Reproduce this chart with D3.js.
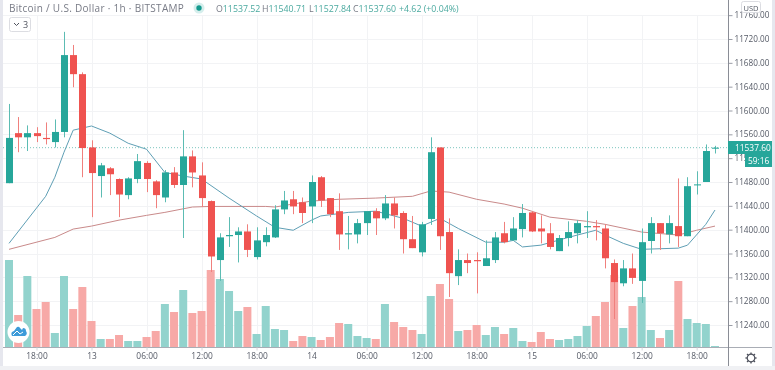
<!DOCTYPE html>
<html><head><meta charset="utf-8">
<script src="https://cdnjs.cloudflare.com/ajax/libs/d3/7.8.5/d3.min.js"></script>
<style>
html,body{margin:0;padding:0;background:#fff;overflow:hidden}
svg{display:block;filter:blur(0.45px)}
text{font-family:"Open Sans",Roboto,sans-serif}
</style></head><body><div id="c"></div>
<script>
const open=[11478,11562,11555,11562,11554,11547,11564,11693,11661,11538,11490,11503,11485,11458,11485,11512,11481,11454,11496,11475,11523,11491,11448,11349,11389,11391,11397,11354,11379,11387,11434,11451,11446,11439,11488,11453,11431,11392,11392,11411,11431,11419,11444,11428,11384,11362,11418,11538,11396,11322,11349,11349,11339,11349,11394,11382,11401,11429,11402,11394,11364,11386,11394,11404,11406,11402,11344,11310,11335,11314,11381,11411,11392,11406,11389,11475,11480,11537.52];
const high=[11611,11589,11575,11572,11580,11585,11732,11710,11664,11550,11512,11505,11486,11488,11527,11515,11483,11500,11505,11567,11533,11513,11449,11394,11421,11404,11409,11404,11404,11441,11465,11465,11454,11491,11490,11453,11461,11423,11418,11431,11436,11458,11454,11431,11423,11413,11555,11538,11419,11367,11360,11362,11382,11396,11413,11421,11443,11431,11424,11411,11391,11414,11416,11431,11416,11409,11350,11349,11360,11402,11421,11411,11424,11486,11488,11498,11543,11540.71];
const low=[11478,11530,11532,11547,11543,11538,11555,11639,11488,11421,11454,11458,11421,11451,11478,11463,11436,11446,11470,11386,11471,11438,11329,11314,11371,11345,11354,11350,11372,11386,11426,11426,11411,11411,11438,11421,11366,11367,11377,11391,11391,11416,11402,11360,11369,11355,11408,11366,11287,11307,11327,11293,11339,11344,11377,11381,11387,11396,11377,11367,11364,11372,11377,11386,11382,11335,11250,11305,11309,11277,11360,11366,11377,11371,11389,11459,11480,11527.84];
const close=[11554,11555,11562,11557,11552,11564,11693,11661,11537,11495,11508,11493,11459,11486,11515,11485,11458,11496,11475,11523,11496,11453,11355,11387,11391,11397,11366,11382,11391,11434,11449,11439,11428,11480,11449,11426,11392,11394,11411,11431,11419,11444,11424,11384,11369,11409,11530,11389,11327,11349,11344,11347,11352,11387,11379,11402,11428,11397,11397,11371,11386,11396,11411,11406,11404,11352,11312,11335,11319,11379,11411,11394,11411,11389,11473,11476,11532,11537.60];
const volume=[87,32,71,38,45,14,71,38,60,26,8,8,12,6,6,10,16,43,35,57,34,36,77,68,56,36,40,13,41,18,17,6,11,10,7,10,24,23,11,9,8,43,25,20,17,13,51,63,48,16,17,22,12,20,13,19,6,5,15,8,7,8,11,21,31,45,72,19,41,50,17,9,17,66,28,24,23,1];
const blueBars=[0,4,5,6,7,9,11,13,15,17,19,21,24,27,29,31,33,34,37,40,43,45,47,49,52,54,55,56,58,61,64,65,67,69,73,74,76,77];
const blueValues=[11377,11456,11488,11530,11567,11574,11562,11545,11535,11496,11490,11485,11453,11423,11404,11399,11416,11423,11429,11431,11419,11406,11419,11402,11379,11379,11382,11371,11374,11387,11399,11391,11377,11367,11369,11374,11409,11433];
const redBars=[0,5,7,9,12,15,17,20,22,28,29,33,36,40,44,46,48,51,54,56,59,63,65,69,73,75,77];
const redValues=[11367,11387,11401,11406,11416,11424,11429,11438,11439,11439,11438,11448,11451,11453,11456,11465,11463,11451,11443,11436,11421,11414,11409,11396,11391,11399,11406];
const priceTicks=[11760,11720,11680,11640,11600,11560,11520,11480,11440,11400,11360,11320,11280,11240];
const timeBars=[3,9,15,21,27,33,39,45,51,57,63,69,75];
const timeLabels=["18:00","13","06:00","12:00","18:00","14","06:00","12:00","18:00","15","06:00","12:00","18:00"];
const legend=[["O","11537.52"],["H","11540.71"],["L","11527.84"],["C","11537.60"]];
const title="Bitcoin / U.S. Dollar · 1h · BITSTAMP";
const change="+4.62 (+0.04%)";
const lastPrice="11537.60", countdown="59:16";

const W=775,H=370,axisX=728,baseY=347,GREEN="#26a69a",RED="#ef5350";
const svg=d3.select("#c").append("svg").attr("width",W).attr("height",H);
const x=d3.scaleLinear().domain([0,77]).range([9,715]);
const y=d3.scaleLinear().domain([11240,11720]).range([325,39]);
const v=d3.scaleLinear().domain([0,100]).range([baseY,baseY-100]);
const bars=d3.range(open.length);
const up=i=>close[i]>=open[i];

svg.append("rect").attr("width",W).attr("height",H).attr("fill","#fff");
// grid
const g=svg.append("g").attr("stroke","#f2f3f5");
g.selectAll(".h").data(priceTicks).join("line").attr("x1",3).attr("x2",axisX).attr("y1",d=>Math.round(y(d))+.5).attr("y2",d=>Math.round(y(d))+.5);
g.selectAll(".v").data(timeBars).join("line").attr("x1",d=>Math.round(x(d))+.5).attr("x2",d=>Math.round(x(d))+.5).attr("y1",16).attr("y2",baseY);
// volume
svg.append("g").selectAll("rect").data(bars).join("rect")
 .attr("x",i=>x(i)-4).attr("width",8).attr("y",i=>v(volume[i])).attr("height",i=>baseY-v(volume[i]))
 .attr("fill",i=>up(i)?"#92d3cd":"#f7a9a7");
// moving averages
const line=d3.line().x(d=>x(d[0])).y(d=>y(d[1])).curve(d3.curveLinear);
svg.append("path").attr("d",line(redBars.map((b,i)=>[b,redValues[i]]))).attr("fill","none").attr("stroke","#c98a8a").attr("stroke-width",1);
svg.append("path").attr("d",line(blueBars.map((b,i)=>[b,blueValues[i]]))).attr("fill","none").attr("stroke","#5f9fb5").attr("stroke-width",1);
// last price line
svg.append("line").attr("x1",3).attr("x2",axisX).attr("y1",y(close[77])).attr("y2",y(close[77])).attr("stroke","#7cc5be").attr("stroke-dasharray","1 2");
// candles
const c=svg.append("g");
c.selectAll("line").data(bars).join("line")
 .attr("x1",i=>Math.round(x(i))+.5).attr("x2",i=>Math.round(x(i))+.5).attr("y1",i=>y(high[i])).attr("y2",i=>y(low[i]))
 .attr("stroke",i=>up(i)?"#5cbcb3":"#f0807d");
c.selectAll("rect").data(bars).join("rect")
 .attr("x",i=>Math.round(x(i))-3).attr("width",7)
 .attr("y",i=>y(Math.max(open[i],close[i])))
 .attr("height",i=>Math.max(1,Math.abs(y(open[i])-y(close[i]))))
 .attr("fill",i=>up(i)?GREEN:RED);
// borders
svg.append("rect").attr("x",0).attr("y",0).attr("width",3).attr("height",H).attr("fill","#e6e7ee");
svg.append("rect").attr("x",772).attr("y",0).attr("width",3).attr("height",H).attr("fill","#e6e7ee");
svg.append("rect").attr("x",0).attr("y",366).attr("width",W).attr("height",4).attr("fill","#f0f1f4");
// axes
const ay=svg.append("g").attr("transform",`translate(${axisX+.5},0)`)
 .call(d3.axisRight(y).tickValues(priceTicks).tickFormat(d=>d3.format(".2f")(d)).tickSize(4).tickPadding(2));
const ax=svg.append("g").attr("transform",`translate(0,${baseY+.5})`)
 .call(d3.axisBottom(x).tickValues(timeBars).tickFormat((d,i)=>timeLabels[i]).tickSize(3).tickPadding(3));
ay.selectAll("text").attr("font-size",8.2).attr("fill","#555a66");
ax.selectAll("text").attr("font-size",8.4).attr("fill","#555a66");
ay.selectAll(".tick line").attr("stroke","#9a9da6");
ax.selectAll(".tick line").attr("stroke","#d5d7dc");
ay.select(".domain").attr("stroke","#8a8d96").attr("d","M0,0V366");
ax.select(".domain").attr("stroke","#a9adb5").attr("d","M3,0H772");
svg.append("line").attr("x1",axisX+.5).attr("x2",axisX+.5).attr("y1",0).attr("y2",366).attr("stroke","#8a8d96");
// last price tag
svg.append("rect").attr("x",728).attr("y",141).attr("width",44).attr("height",13).attr("fill",GREEN);
svg.append("text").attr("x",735).attr("y",151).attr("font-size",8.4).attr("fill","#fff").text(lastPrice);
svg.append("rect").attr("x",745).attr("y",154).attr("width",27).attr("height",13).attr("fill",GREEN);
svg.append("text").attr("x",748).attr("y",164).attr("font-size",8.4).attr("fill","#fff").text(countdown);
// USD
svg.append("rect").attr("x",741.5).attr("y",1.5).attr("width",19).attr("height",11).attr("rx",2).attr("fill","#fff").attr("stroke","#dcdde2");
svg.append("text").attr("x",751).attr("y",10.5).attr("text-anchor","middle").attr("font-size",7.5).attr("fill","#555a66").text("USD");
// gear
const gear=svg.append("g").attr("transform","translate(751,358)");
gear.append("circle").attr("r",3.8).attr("fill","none").attr("stroke","#50535e").attr("stroke-width",1.2);
gear.selectAll("line").data(d3.range(8)).join("line").attr("x1",3.5).attr("x2",5.6)
 .attr("transform",d=>`rotate(${d*45})`).attr("stroke","#50535e").attr("stroke-width",1.3);
// title and legend
svg.append("text").attr("x",9).attr("y",12).attr("font-size",10).attr("letter-spacing",.3).attr("fill","#787b86").text(title);
svg.append("circle").attr("cx",199).attr("cy",8).attr("r",5.5).attr("fill","#d5eeec");
svg.append("circle").attr("cx",199).attr("cy",8).attr("r",2.7).attr("fill","#159a8e");
const lx=[216,262,309,353];
legend.forEach((d,i)=>{
 const t=svg.append("text").attr("x",lx[i]).attr("y",12).attr("font-size",8.8);
 t.append("tspan").attr("fill","#787b86").text(d[0]);
 t.append("tspan").attr("fill","#4aa99f").text(d[1]);
});
svg.append("text").attr("x",399).attr("y",12).attr("font-size",8.8).attr("fill","#4aa99f").text(change);
// collapse button
svg.append("rect").attr("x",9.5).attr("y",17.5).attr("width",21).attr("height",14).attr("rx",2).attr("fill","#fff").attr("stroke","#dcdde2");
svg.append("path").attr("d","M14,23l2.5,2.5l2.5,-2.5").attr("fill","none").attr("stroke","#50535e");
svg.append("text").attr("x",23).attr("y",28).attr("font-size",9).attr("fill","#50535e").text("3");
// logo
svg.append("circle").attr("cx",18.5).attr("cy",332).attr("r",11).attr("fill","#fff");
svg.append("path").attr("d","M12,336 q-2,-4 2,-5 l3,-4 q2,-1 3,1 l2,2 l1,-2 q3,0 3,3 q2,3 -1,5 z").attr("fill","#3d9bd9");
svg.append("path").attr("d","M13,335 l4,-4 l3,3 l3,-2").attr("fill","none").attr("stroke","#fff").attr("stroke-width",1);
</script></body></html>
